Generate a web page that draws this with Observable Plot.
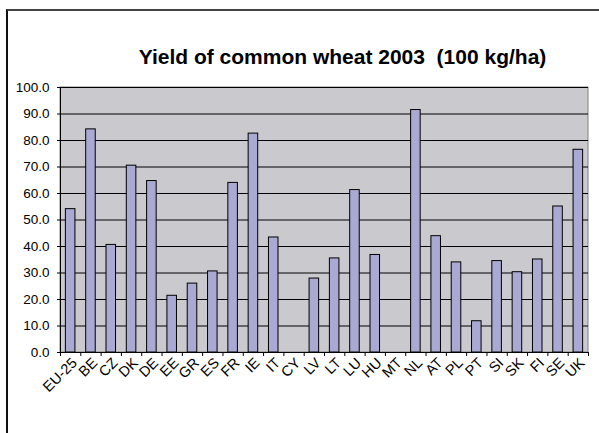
<!DOCTYPE html>
<html><head><meta charset="utf-8">
<script src="https://cdn.jsdelivr.net/npm/d3@7"></script>
<script src="https://cdn.jsdelivr.net/npm/@observablehq/plot@0.6"></script>
<style>
body{margin:0;background:#fff;font-family:"Liberation Sans",Arial,sans-serif;}
#wrap{position:relative;width:599px;height:433px;overflow:hidden;}
#frame{position:absolute;left:6px;top:9px;width:700px;height:600px;border-top:2px solid #444;border-left:2px solid #111;}
#title{position:absolute;left:0;width:685px;top:45px;text-align:center;font-weight:bold;font-size:21px;line-height:24px;color:#000;white-space:nowrap;}
#chart{position:absolute;left:0;top:0;}
</style></head>
<body><div id="wrap"><div id="frame"></div><div id="title">Yield of common wheat 2003&nbsp;&nbsp;(100 kg/ha)</div><div id="chart"></div></div>
<script>
const countries = ["EU-25","BE","CZ","DK","DE","EE","GR","ES","FR","IE","IT","CY","LV","LT","LU","HU","MT","NL","AT","PL","PT","SI","SK","FI","SE","UK"];
const yields = [54.1,84.2,40.6,70.5,64.7,21.4,26.0,30.6,64.0,82.6,43.4,null,27.9,35.5,61.3,36.8,null,91.5,43.9,34.0,11.8,34.5,30.3,35.1,55.1,76.5];
const yTicks = [0,10,20,30,40,50,60,70,80,90,100];

const data = countries.map((c,i)=>({c, i, v: yields[i]})).filter(d=>d.v!=null);
const half = 0.235;

const chart = Plot.plot({
  width: 599, height: 433,
  marginLeft: 60, marginRight: 11, marginTop: 87, marginBottom: 81,
  style: {fontFamily: '"Liberation Sans", Arial, sans-serif', fontSize: "13.5px", color: "#000", background: "transparent"},
  x: {type: "linear", domain: [0, countries.length], axis: null},
  y: {domain: [0, 100], axis: null},
  marks: [
    Plot.rect([0], {x1: 0, x2: countries.length, y1: 0, y2: 100, fill: "#c9c9ce", stroke: "#808080"}),
    Plot.ruleY(yTicks, {x1: 0, x2: countries.length, stroke: "#000", strokeWidth: 1}),
    Plot.rectY(data, {x1: d=>d.i+0.5-half, x2: d=>d.i+0.5+half, y: "v", fill: "#a9a9d4", stroke: "#000", strokeWidth: 1}),
    Plot.axisY({ticks: yTicks, tickSize: 3, tickPadding: 8, tickFormat: d=>d.toFixed(1), fontSize: 13.5, label: null}),
    Plot.ruleX([0], {stroke: "#000"}),
    Plot.ruleY([0], {stroke: "#000"}),
    Plot.axisX({ticks: d3.range(countries.length+1), tickSize: 4, tickFormat: ()=>"", label: null}),
    Plot.axisX({ticks: countries.map((c,i)=>i+0.5), tickSize: 0, tickFormat: d=>countries[Math.floor(d)], tickRotate: -45, textAnchor: "end", tickPadding: 8, dx: 4, fontSize: 14.5, label: null})
  ]
});
document.getElementById("chart").appendChild(chart);
</script></body></html>
